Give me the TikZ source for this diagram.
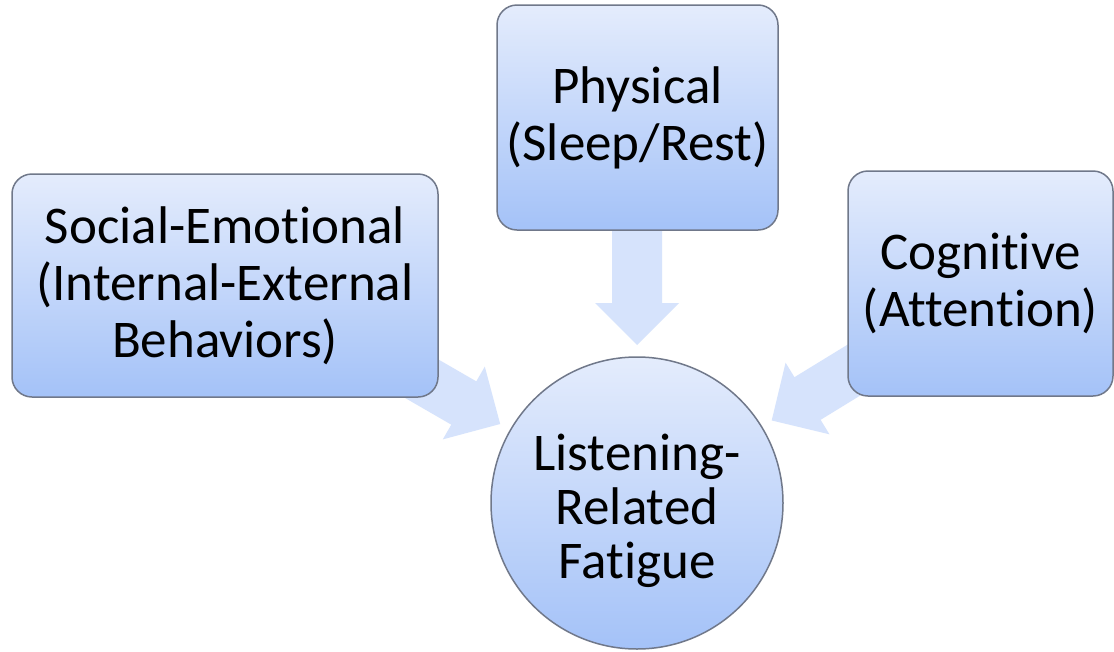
\documentclass[tikz,border=0pt]{standalone}
\usepackage{fontspec}
\setmainfont{Carlito}[Ligatures=NoCommon]
\usetikzlibrary{backgrounds}
\definecolor{boxtop}{RGB}{228,236,252}
\definecolor{boxbot}{RGB}{164,194,248}
\definecolor{arrowc}{RGB}{214,227,252}
\definecolor{edgec}{RGB}{112,120,138}
\begin{document}
\begin{tikzpicture}[x=1pt,y=-1pt,
  box/.style={draw=edgec, line width=1.5pt, rounded corners=20pt, top color=boxtop, bottom color=boxbot,
    align=center, inner sep=0pt, font=\fontsize{53}{57}\selectfont, text=black},
  hub/.style={circle, draw=edgec, line width=1.5pt, top color=boxtop, bottom color=boxbot,
    align=center, inner sep=0pt, minimum size=292pt, font=\fontsize{53}{54}\selectfont, text=black},
  blockarrow/.style={fill=arrowc, draw=none}]
\useasboundingbox (0,0) rectangle (1114,651);

\node[box, minimum width=426pt, minimum height=223pt] (soc) at (225,285.5)
  {Social-Emotional\\(Internal-External\\Behaviors)};
\node[box, minimum width=281pt, minimum height=225pt] (phy) at (637.5,117.5)
  {Physical\\(Sleep/Rest)};
\node[box, minimum width=265pt, minimum height=225pt] (cog) at (980.5,283.5)
  {Cognitive\\(Attention)};
\node[hub] (fat) at (637,503) {\rule{0pt}{52pt}Listening-\\Related\\Fatigue};

\begin{scope}[on background layer]
  \fill[white] (0,0) rectangle (1114,651);
  \begin{scope}[shift={(fat.center)}, rotate=90]
    \fill[blockarrow] (158,0) -- (200,42) -- (200,25) -- (290,25) -- (290,-25) -- (200,-25) -- (200,-42) -- cycle;
  \end{scope}
  \begin{scope}[shift={(fat.center)}, rotate=150]
    \fill[blockarrow] (158,0) -- (200,42) -- (200,25) -- (290,25) -- (290,-25) -- (200,-25) -- (200,-42) -- cycle;
  \end{scope}
  \begin{scope}[shift={(fat.center)}, rotate=31.5]
    \fill[blockarrow] (158,0) -- (200,42) -- (200,25) -- (290,25) -- (290,-25) -- (200,-25) -- (200,-42) -- cycle;
  \end{scope}
\end{scope}
\end{tikzpicture}
\end{document}
